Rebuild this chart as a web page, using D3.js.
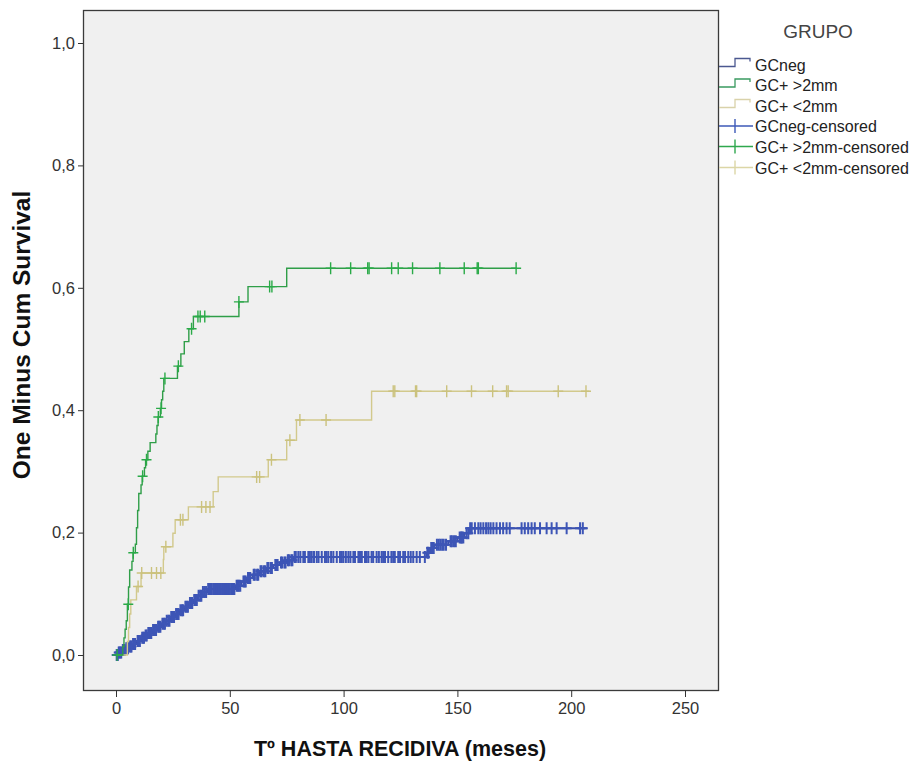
<!DOCTYPE html>
<html>
<head>
<meta charset="utf-8">
<script src="https://cdn.jsdelivr.net/npm/d3@7"></script>
<style>
  html, body { margin: 0; padding: 0; background: #ffffff; }
  svg { display: block; font-family: Arial, "Liberation Sans", sans-serif; }
</style>
</head>
<body>
<svg id="chart" width="920" height="762"></svg>
<script>
// ---------------- DATA ----------------
const groups = ["GCneg", "GC+ >2mm", "GC+ <2mm"];
const yTicks = [0, 0.2, 0.4, 0.6, 0.8, 1.0];
const xTicks = [0, 50, 100, 150, 200, 250];
const xTitle = "Tº HASTA RECIDIVA (meses)";
const yTitle = "One Minus Cum Survival";
const legendTitle = "GRUPO";
const legendLabels = ["GCneg", "GC+ >2mm", "GC+ <2mm", "GCneg-censored", "GC+ >2mm-censored", "GC+ <2mm-censored"];

// step events: [time, 1 - survival after the event]
const gcnegSteps = [
  [1, 0.004], [2.5, 0.008], [4, 0.011], [5.5, 0.014], [7, 0.018], [9, 0.023], [11, 0.028],
  [12.5, 0.032], [14, 0.036], [16, 0.041], [18, 0.046], [20, 0.051], [22, 0.056], [24, 0.062],
  [26, 0.067], [28, 0.073], [30, 0.079], [32, 0.085], [34, 0.090], [36, 0.097], [38, 0.103],
  [40, 0.108], [52.5, 0.113], [55, 0.120], [57.5, 0.126], [60, 0.131], [63, 0.137], [66, 0.142],
  [69, 0.147], [72, 0.151], [75, 0.155], [78, 0.160], [136.5, 0.167], [138, 0.175], [140, 0.180],
  [146, 0.186], [150, 0.192], [153, 0.199], [155, 0.207]
];
const gcnegEnd = 207;
const gcnegCensored = [
  0.3, 0.8, 1.2, 1.5, 2, 2.3, 3, 3.5, 3.8, 4.5, 5, 5.3, 6, 6.5, 6.8, 7.5, 8, 8.4, 9.5, 10, 10.5,
  11.5, 12, 12.3, 13, 13.5, 14.2, 14.6, 15, 15.5, 16.3, 16.5, 17, 17.6, 18.5, 19, 19.5, 20.4,
  21, 21.5, 22.3, 23, 23.5, 24.3, 24.5, 25, 25.5, 26.4, 27, 27.5, 28.3, 29, 29.5, 30.5, 31,
  31.6, 32.5, 33, 33.5, 34.4, 35, 35.5, 36.3, 37, 37.5, 38.2, 39, 39.6, 40.5, 41, 41.6, 42, 42.7,
  43, 43.5, 44.1, 44.5, 45, 45.7, 46, 46.6, 47, 47.5, 48, 48.5, 49, 49.5, 50, 50.6, 51, 51.6, 52,
  53, 53.5, 54, 54.6, 56, 56.5, 57, 58, 58.6, 59, 60.5, 61, 62, 62.5, 63.5, 64, 65, 65.6, 66.5,
  67, 68, 68.5, 70, 70.6, 71, 72.5, 73, 74, 74.5, 75.5, 76, 77, 77.5, 78.5, 79,
  80.1, 81, 82.3, 83, 84.5, 85.2, 86, 87, 88.2, 89, 90.4, 91.8, 92.5, 93.3, 94.5, 95.5, 97, 98.4,
  99.2, 99.9, 101, 102.1, 103, 104.3, 105, 106.5, 107.2, 108, 109.4, 110.1, 110.9, 112.3, 113,
  114.5, 115.5, 116.7, 117.4, 118.2, 119.6, 121, 121.8, 122.5, 124, 124.8, 126.2, 127, 128.4,
  129.5, 130.6, 132.1, 133.5, 135.7, 136.8, 137.3, 138.5, 139, 139.6, 141, 141.8, 142.5, 143.3,
  144, 145, 147, 147.6, 148.5, 149.3, 151, 151.6, 152, 152.6, 154, 154.8, 155.6, 156.3, 157.7,
  159.2, 160.2, 161.4, 162.6, 163.6, 164.6, 165.8, 167.2, 168.7, 170.1, 171.6, 173, 178.2, 179.6,
  181.1, 182.6, 184, 186.3, 189.2, 191.4, 193.6, 198, 203.9, 205.1
];

const gcMayorSteps = [
  [3, 0.014], [3.5, 0.028], [4, 0.042], [4.5, 0.056], [5, 0.083], [5.5, 0.111], [6, 0.139],
  [7, 0.153], [7.5, 0.167], [8.5, 0.181], [9, 0.208], [9.5, 0.236], [10, 0.264], [11, 0.278],
  [11.5, 0.292], [12.5, 0.306], [13, 0.319], [14, 0.333], [15, 0.347], [17.5, 0.361], [18, 0.375],
  [18.5, 0.389], [19.5, 0.403], [20, 0.417], [20.5, 0.431], [21, 0.452], [27, 0.472], [28.5, 0.492],
  [30, 0.512], [32, 0.533], [34, 0.553], [54, 0.577], [58, 0.602], [75, 0.632]
];
const gcMayorEnd = 176;
const gcMayorCensored = [
  0.5, 5.4, 7.6, 11.7, 13.4, 18.6, 19.8, 21.5, 27.4, 33.2, 36, 37, 39, 54, 67.5, 68.5,
  94.3, 103.1, 110.6, 111.2, 121.1, 124, 130.3, 142.3, 153, 158.7, 159.2, 175.8
];

const gcMenorSteps = [
  [5, 0.022], [5.5, 0.045], [6, 0.067], [6.5, 0.090], [9, 0.112], [11, 0.134], [20.8, 0.156],
  [21, 0.177], [25, 0.199], [26, 0.221], [31.8, 0.242], [42.7, 0.267], [44.9, 0.291],
  [66.9, 0.319], [75, 0.351], [79.3, 0.384], [112.3, 0.431]
];
const gcMenorEnd = 208;
const gcMenorCensored = [
  9.7, 11.3, 15.6, 17.8, 19.7, 21.9, 28.3, 29.4, 37.6, 39.5, 41.3, 61.8, 63.1, 68.3, 76.4,
  80.8, 92.3, 121.8, 122.5, 131.6, 132.1, 145.3, 156.2, 165.5, 171.6, 172.3, 194.3, 206.5
];

const lineColors = ["#3a4ea8", "#2f9e48", "#d2c98c"];
const markColors = ["#3d55b6", "#2aaa48", "#cbc27e"];
const legendLineColors = ["#4b5890", "#3a9a60", "#d9d2aa"];
const legendMarkColors = ["#3e5ab8", "#2fa84e", "#dcd6a6"];

// ---------------- CHART ----------------
const svg = d3.select("#chart");
const frame = { left: 83, top: 10, right: 718, bottom: 690 };
const x = d3.scaleLinear().domain([0, 250]).range([116, 685]);
const y = d3.scaleLinear().domain([0, 1]).range([655, 43]);

svg.append("rect")
  .attr("x", frame.left).attr("y", frame.top)
  .attr("width", frame.right - frame.left).attr("height", frame.bottom - frame.top)
  .attr("fill", "#f0f0f0");

const series = [
  { steps: gcnegSteps, end: gcnegEnd, cens: gcnegCensored },
  { steps: gcMayorSteps, end: gcMayorEnd, cens: gcMayorCensored },
  { steps: gcMenorSteps, end: gcMenorEnd, cens: gcMenorCensored }
];

function valueAt(steps, t) {
  let v = 0;
  for (const s of steps) { if (s[0] <= t) v = s[1]; else break; }
  return v;
}

const line = d3.line().x(d => x(d[0])).y(d => y(d[1])).curve(d3.curveStepAfter);

// draw in order: blue, tan, green
[0, 2, 1].forEach(i => {
  const s = series[i];
  const pts = [[0, 0], ...s.steps, [s.end, s.steps[s.steps.length - 1][1]]];
  svg.append("path").attr("d", line(pts))
    .attr("fill", "none").attr("stroke", lineColors[i]).attr("stroke-width", i === 0 ? 2 : 1.4);
  const g = svg.append("g").attr("stroke", markColors[i]).attr("stroke-width", i === 0 ? 2 : 1.4);
  s.cens.forEach(t => {
    const cx = x(t), cy = y(valueAt(s.steps, t));
    g.append("path").attr("d", `M${cx - 5},${cy}H${cx + 5}M${cx},${cy - 6}V${cy + 6}`);
  });
});

// frame
svg.append("rect")
  .attr("x", frame.left + 0.5).attr("y", frame.top + 0.5)
  .attr("width", frame.right - frame.left).attr("height", frame.bottom - frame.top)
  .attr("fill", "none").attr("stroke", "#3a3a3a").attr("stroke-width", 1.3);

// axes
const fmt = d => d3.format(".1f")(d).replace(".", ",");
const yAxis = svg.append("g").attr("transform", `translate(${frame.left},0)`)
  .call(d3.axisLeft(y).tickValues(yTicks).tickFormat(fmt).tickSize(5).tickPadding(3).tickSizeOuter(0));
yAxis.select(".domain").remove();
yAxis.selectAll("line").attr("stroke", "#333");
yAxis.selectAll("text").attr("font-size", 16.5).attr("fill", "#333")
  .attr("font-family", "Arial, 'Liberation Sans', sans-serif");

const xAxis = svg.append("g").attr("transform", `translate(0,${frame.bottom})`)
  .call(d3.axisBottom(x).tickValues(xTicks).tickFormat(d3.format("d")).tickSize(7).tickPadding(5).tickSizeOuter(0));
xAxis.select(".domain").remove();
xAxis.selectAll("line").attr("stroke", "#333");
xAxis.selectAll("text").attr("font-size", 16.5).attr("fill", "#333")
  .attr("font-family", "Arial, 'Liberation Sans', sans-serif");

// titles
svg.append("text").attr("x", 400).attr("y", 756).attr("text-anchor", "middle")
  .attr("font-size", 21.5).attr("font-weight", "bold").attr("fill", "#111").text(xTitle);
svg.append("text").attr("transform", "translate(30,335) rotate(-90)").attr("text-anchor", "middle")
  .attr("font-size", 24.5).attr("font-weight", "bold").attr("fill", "#111").text(yTitle);

// legend
svg.append("text").attr("x", 818).attr("y", 38).attr("text-anchor", "middle")
  .attr("font-size", 19).attr("fill", "#444").text(legendTitle);
const legY = [64.5, 85, 105.5, 126, 146.5, 167.5];
legendLabels.forEach((lab, i) => {
  const cy = legY[i];
  if (i < 3) {
    svg.append("path")
      .attr("d", `M719,${cy + 2}H735V${cy - 6}H750V${cy - 3}`)
      .attr("fill", "none").attr("stroke", legendLineColors[i]).attr("stroke-width", 1.3);
  } else {
    const g = svg.append("g").attr("stroke", legendMarkColors[i - 3]).attr("stroke-width", 1.4);
    g.append("path").attr("d", `M719,${cy}H753M735,${cy - 7}V${cy + 7}`);
  }
  svg.append("text").attr("x", 755).attr("y", cy + 6)
    .attr("font-size", 16).attr("fill", "#222").text(lab);
});
</script>
</body>
</html>
